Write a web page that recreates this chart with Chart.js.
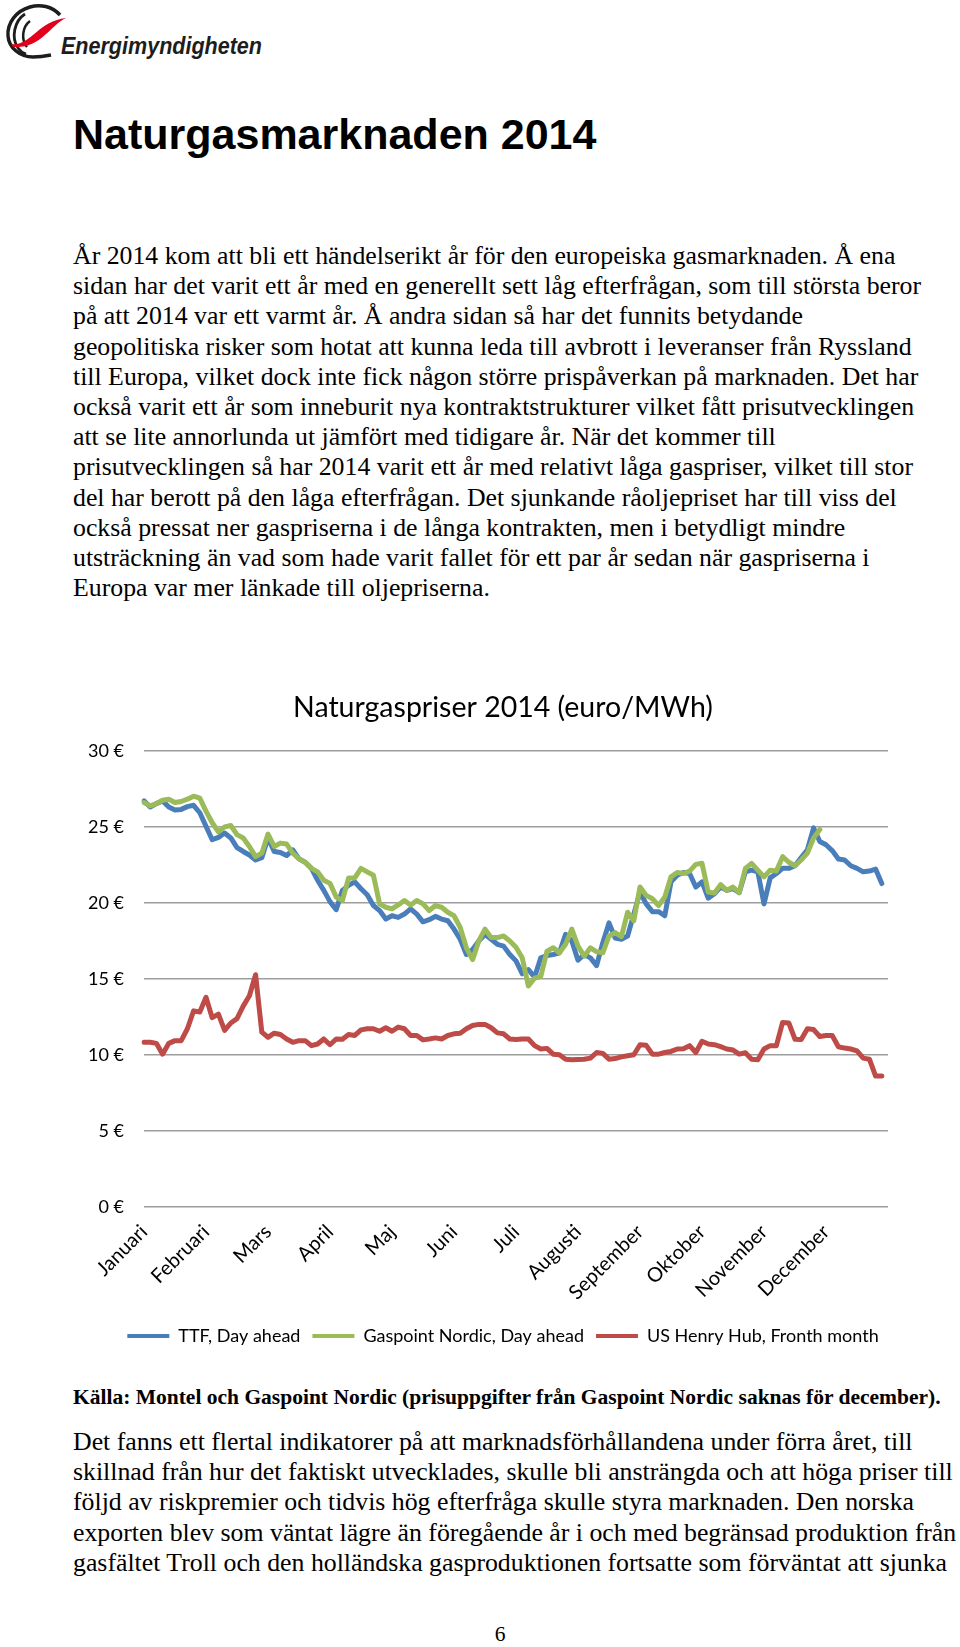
<!DOCTYPE html>
<html lang="sv">
<head>
<meta charset="utf-8">
<title>Naturgasmarknaden 2014</title>
<script src="https://cdn.jsdelivr.net/npm/chart.js@4.4.1/dist/chart.umd.min.js"></script>
<style>
html, body { margin: 0; padding: 0; background: #fff; }
#page { position: relative; width: 960px; height: 1647px; overflow: hidden; background: #fff; }
.logo { position: absolute; left: 0; top: 0; }
h1 { position: absolute; left: 73px; top: 110px; margin: 0; line-height: 48px;
     font: bold 43px "Liberation Sans", Arial, sans-serif; color: #000; }
.txt { position: absolute; left: 73px; margin: 0; white-space: nowrap; color: #000;
       font-family: "Liberation Serif", "Times New Roman", serif; font-size: 25.8px; line-height: 30.2px; }
.source { position: absolute; left: 73px; top: 1385px; white-space: nowrap; color: #000;
          font: bold 21.5px/24px "Liberation Serif", "Times New Roman", serif; }
.pagenr { position: absolute; left: 0; width: 1000px; top: 1622px; text-align: center;
          font: 21.5px/24px "Liberation Serif", "Times New Roman", serif; }
#chartbox { position: absolute; left: 60px; top: 680px; }
</style>
</head>
<body>
<div id="page">

<svg class="logo" width="270" height="70" viewBox="0 0 270 70">
  <path d="M60 15 C52 6 40 4 30 7 C16 11 7 23 8 36 C9 48 20 57 33 57 C40 57 46 56 51 55" fill="none" stroke="#1d1d1b" stroke-width="3.4"/>
  <path d="M25 14 C14 21 11 38 18 48 C20 51 23 53 26 54" fill="none" stroke="#1d1d1b" stroke-width="2.8"/>
  <path d="M30 21 C22 27 21 40 27 47" fill="none" stroke="#1d1d1b" stroke-width="2.5"/>
  <path d="M11 44 C30 47 38 21 66 18 C50 25 41 49 13 47 Z" fill="#e2001a"/>
  <text x="61" y="53.5" font-family="'Liberation Sans Narrow','Liberation Sans',Arial,sans-serif" font-style="italic" font-weight="bold"
        font-size="24" textLength="201" lengthAdjust="spacingAndGlyphs" fill="#1d1d1b">Energimyndigheten</text>
</svg>

<h1>Naturgasmarknaden 2014</h1>

<div class="txt" style="top:241px">
År 2014 kom att bli ett händelserikt år för den europeiska gasmarknaden. Å ena<br>
sidan har det varit ett år med en generellt sett låg efterfrågan, som till största beror<br>
på att 2014 var ett varmt år. Å andra sidan så har det funnits betydande<br>
geopolitiska risker som hotat att kunna leda till avbrott i leveranser från Ryssland<br>
till Europa, vilket dock inte fick någon större prispåverkan på marknaden. Det har<br>
också varit ett år som inneburit nya kontraktstrukturer vilket fått prisutvecklingen<br>
att se lite annorlunda ut jämfört med tidigare år. När det kommer till<br>
prisutvecklingen så har 2014 varit ett år med relativt låga gaspriser, vilket till stor<br>
del har berott på den låga efterfrågan. Det sjunkande råoljepriset har till viss del<br>
också pressat ner gaspriserna i de långa kontrakten, men i betydligt mindre<br>
utsträckning än vad som hade varit fallet för ett par år sedan när gaspriserna i<br>
Europa var mer länkade till oljepriserna.
</div>

<div id="chartbox"><canvas id="gas_prices" width="886" height="675"></canvas></div>

<div class="source">Källa: Montel och Gaspoint Nordic (prisuppgifter från Gaspoint Nordic saknas för december).</div>

<div class="txt" style="top:1427px">
Det fanns ett flertal indikatorer på att marknadsförhållandena under förra året, till<br>
skillnad från hur det faktiskt utvecklades, skulle bli ansträngda och att höga priser till<br>
följd av riskpremier och tidvis hög efterfråga skulle styra marknaden. Den norska<br>
exporten blev som väntat lägre än föregående år i och med begränsad produktion från<br>
gasfältet Troll och den holländska gasproduktionen fortsatte som förväntat att sjunka
</div>

<div class="pagenr">6</div>
</div>

<script>
// month names shown on the x axis, one every 10 points
var months = ['Januari', 'Februari', 'Mars', 'April', 'Maj', 'Juni',
              'Juli', 'Augusti', 'September', 'Oktober', 'November', 'December'];

// euro/MWh (about every second trading day)
var ttfDayAhead = [
    26.73, 26.33, 26.55, 26.73, 26.33, 26.13, 26.17, 26.35, 26.44, 25.95,
    25.06, 24.17, 24.33, 24.62, 24.29, 23.66, 23.40, 23.17, 22.84, 22.99,
    24.29, 23.40, 23.33, 23.13, 23.51, 22.91, 22.69, 22.29, 21.51, 20.84,
    20.10, 19.57, 20.84, 21.17, 21.40, 20.95, 20.55, 19.84, 19.51, 18.95,
    19.17, 19.06, 19.28, 19.62, 19.28, 18.77, 18.91, 19.13, 18.95, 18.84,
    18.29, 17.62, 16.62, 16.95, 17.51, 17.95, 17.62, 17.29, 17.17, 16.62,
    16.20, 15.35, 15.62, 15.13, 16.40, 16.55, 16.62, 16.73, 17.95, 17.51,
    16.24, 16.62, 16.40, 15.89, 17.40, 18.70, 17.70, 17.62, 17.84, 19.28,
    20.73, 19.95, 19.44, 19.44, 19.17, 21.40, 21.84, 22.02, 21.95, 21.06,
    21.40, 20.33, 20.62, 21.06, 20.84, 20.95, 20.69, 22.06, 22.17, 22.06,
    19.95, 21.66, 21.95, 22.29, 22.29, 22.46, 23.00, 23.51, 24.95, 24.06,
    23.84, 23.46, 22.91, 22.84, 22.46, 22.29, 22.06, 22.11, 22.24, 21.29,
    21.06
];

// no Gaspoint Nordic prices for December
var gaspointNordic = [
    26.62, 26.40, 26.55, 26.77, 26.84, 26.62, 26.69, 26.84, 27.04, 26.91,
    26.06, 25.29, 24.69, 25.02, 25.11, 24.51, 24.29, 23.73, 23.06, 23.29,
    24.55, 23.73, 23.95, 23.89, 23.29, 22.91, 22.69, 22.29, 22.06, 21.51,
    21.30, 20.40, 20.17, 21.66, 21.66, 22.29, 22.06, 21.84, 19.95, 19.73,
    19.62, 19.88, 20.17, 19.88, 20.17, 19.95, 19.51, 19.84, 19.73, 19.40,
    19.17, 18.40, 17.06, 16.28, 17.51, 18.29, 17.73, 17.73, 17.84, 17.51,
    17.10, 16.40, 14.55, 15.06, 15.17, 16.84, 17.06, 16.73, 17.29, 18.29,
    17.17, 16.51, 17.06, 16.80, 16.73, 17.84, 18.06, 17.80, 19.40, 18.84,
    21.06, 20.51, 20.29, 19.84, 20.40, 21.73, 22.02, 21.95, 22.11, 22.55,
    22.62, 20.73, 20.66, 21.22, 20.84, 21.06, 20.69, 22.29, 22.62, 22.17,
    21.73, 22.17, 22.11, 23.06, 22.69, 22.46, 22.84, 23.29, 24.29, 24.84,
    null, null, null, null, null, null, null, null, null, null,
    null
];

var henryHub = [
    10.84, 10.84, 10.77, 10.06, 10.77, 10.95, 10.95, 11.73, 12.91, 12.84,
    13.80, 12.46, 12.69, 11.62, 12.11, 12.40, 13.22, 13.90, 15.29, 11.51,
    11.17, 11.44, 11.35, 11.06, 10.84, 10.95, 10.95, 10.62, 10.73, 11.06,
    10.68, 11.06, 11.04, 11.35, 11.29, 11.66, 11.73, 11.73, 11.57, 11.80,
    11.57, 11.84, 11.73, 11.29, 11.29, 11.00, 11.06, 11.13, 11.06, 11.29,
    11.40, 11.44, 11.73, 11.95, 12.02, 12.02, 11.80, 11.46, 11.40, 11.06,
    11.02, 11.06, 11.06, 10.62, 10.40, 10.44, 10.06, 10.02, 9.73, 9.69,
    9.71, 9.73, 9.80, 10.17, 10.11, 9.73, 9.77, 9.88, 9.95, 10.02,
    10.68, 10.64, 10.06, 10.06, 10.17, 10.24, 10.40, 10.42, 10.62, 10.17,
    10.91, 10.73, 10.68, 10.55, 10.40, 10.33, 10.06, 10.15, 9.73, 9.69,
    10.40, 10.62, 10.62, 12.15, 12.11, 11.04, 11.02, 11.73, 11.68, 11.22,
    11.29, 11.29, 10.55, 10.46, 10.40, 10.28, 9.80, 9.73, 8.62, 8.62,
    8.62
];

var labels = ttfDayAhead.map(function (v, i) {
    return i % 10 === 0 ? months[i / 10] : '';
});

function draw_chart() {
    Chart.defaults.font.family = 'Lato';
    Chart.defaults.color = '#000';

    var ctx = document.getElementById('gas_prices').getContext('2d');
    var myChart = new Chart(ctx, {
        type: 'line',
        data: {
            labels: labels,
            datasets: [{
                label: 'TTF, Day ahead',
                data: ttfDayAhead,
                borderColor: '#4a7ebb',
                backgroundColor: '#4a7ebb',
                order: 1
            }, {
                label: 'Gaspoint Nordic, Day ahead',
                data: gaspointNordic,
                borderColor: '#9bbb59',
                backgroundColor: '#9bbb59',
                order: 0
            }, {
                label: 'US Henry Hub, Fronth month',
                data: henryHub,
                borderColor: '#be4b48',
                backgroundColor: '#be4b48',
                order: 2
            }]
        },
        options: {
            responsive: false,
            animation: false,
            layout: { padding: 0 },
            elements: {
                point: { radius: 0 },
                line: { borderWidth: 5, tension: 0, borderJoinStyle: 'round', borderCapStyle: 'round' }
            },
            scales: {
                x: {
                    grid: { display: false },
                    border: { display: false },
                    ticks: {
                        autoSkip: false,
                        minRotation: 45,
                        maxRotation: 45,
                        padding: 5,
                        font: { size: 20 }
                    },
                    afterFit: function (scale) {
                        scale.height = 108;
                        scale.paddingLeft = 0;
                        scale.paddingRight = 0;
                    }
                },
                y: {
                    min: 0,
                    max: 30,
                    border: { display: false },
                    grid: { color: '#9d9d9d', lineWidth: 1.5, drawTicks: false },
                    ticks: {
                        stepSize: 5,
                        padding: 20,
                        font: { size: 18 },
                        callback: function (value) { return value + ' €'; }
                    },
                    afterFit: function (scale) {
                        scale.width = 84;
                    }
                },
                // empty axis on the right, only keeps the title and legend centred like the original
                spacer: {
                    position: 'right',
                    grid: { display: false },
                    border: { display: false },
                    ticks: { display: false },
                    afterFit: function (scale) {
                        scale.width = 58;
                    }
                }
            },
            plugins: {
                title: {
                    display: true,
                    text: 'Naturgaspriser 2014 (euro/MWh)',
                    font: { size: 28.5, weight: 'normal' },
                    padding: { top: 11, bottom: 26 }
                },
                legend: {
                    position: 'bottom',
                    labels: {
                        boxWidth: 42,
                        boxHeight: 4,
                        padding: 12,
                        font: { size: 18 },
                        sort: function (a, b) { return a.datasetIndex - b.datasetIndex; },
                        generateLabels: function (chart) {
                            var items = Chart.defaults.plugins.legend.labels.generateLabels(chart);
                            items.forEach(function (item) { item.lineWidth = 0; });
                            return items;
                        }
                    }
                },
                tooltip: { enabled: false }
            }
        }
    });
}

if (document.fonts && document.fonts.load) {
    document.fonts.load('18px Lato').then(draw_chart, draw_chart);
} else {
    draw_chart();
}
</script>
</body>
</html>
